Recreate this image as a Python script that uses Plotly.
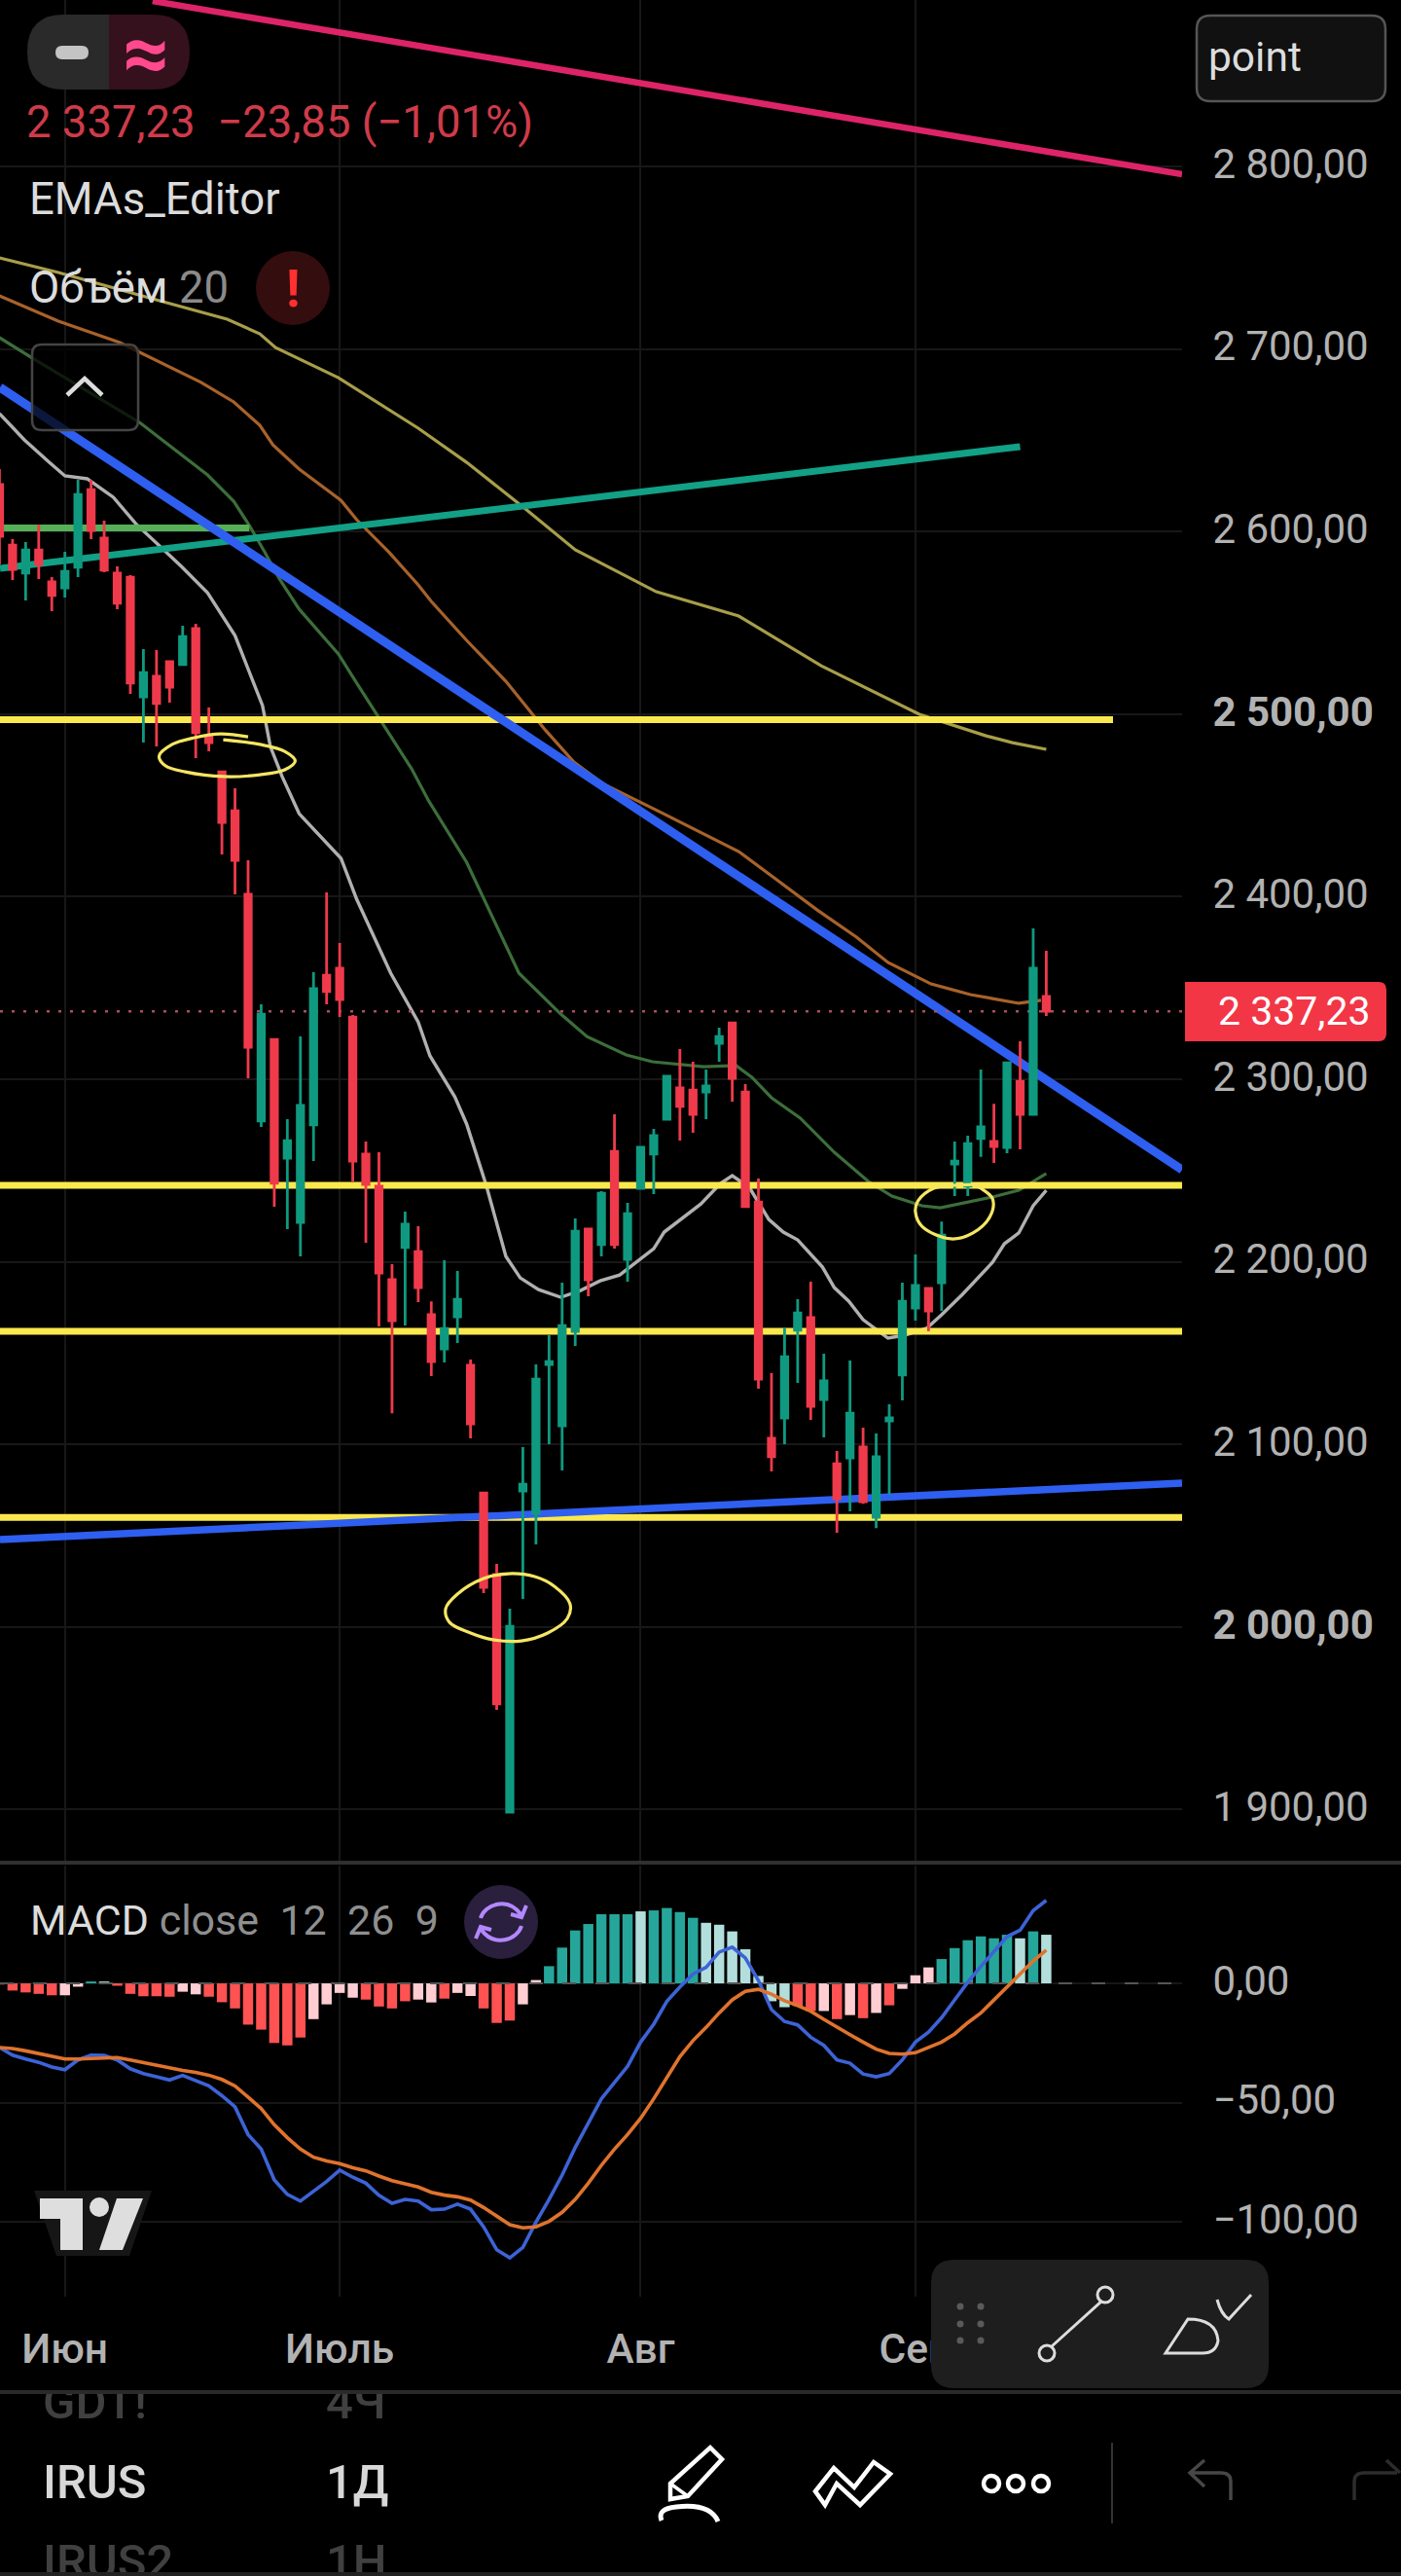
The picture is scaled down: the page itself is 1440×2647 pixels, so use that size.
import plotly.graph_objects as go

W, H = 1440, 2647
FONT = "Roboto"

# ---------- price pane data ----------
candle_idx = list(range(-5, 76))
c_open = [2625.7,2592.6,2577.2,2589.9,2572.4,2569.2,2580.4,2623.0,2596.4,2577.2,
          2575.0,2509.5,2520.7,2528.7,2527.1,2546.8,2488.1,2468.4,2447.1,2401.3,
          2277.1,2321.8,2256.8,2221.6,2275.0,2357.0,2360.8,2334.1,2259.0,2241.4,
          2190.2,2207.8,2205.6,2171.0,2152.3,2169.9,2143.3,2073.4,2028.7,1898.6,
          2074.5,2062.2,2143.8,2110.2,2161.9,2217.9,2209.4,2260.5,2201.4,2240.3,
          2259.0,2278.1,2295.2,2294.1,2293.0,2319.7,2330.9,2293.0,2232.8,2103.3,
          2114.5,2162.5,2169.4,2124.6,2089.4,2092.6,2098.5,2060.1,2112.9,2138.0,
          2174.7,2185.4,2188.6,2253.6,2241.4,2267.5,2265.9,2262.7,2298.9,2280.8,
          2345.3]
c_close = [2597.4,2579.3,2589.9,2582.0,2565.0,2578.2,2620.3,2600.6,2578.8,2560.7,
           2517.0,2522.8,2505.8,2514.8,2542.5,2489.8,2484.4,2440.7,2419.9,2317.6,
           2335.7,2243.0,2266.4,2285.6,2349.6,2348.0,2343.7,2255.2,2242.4,2193.9,
           2167.8,2220.6,2185.9,2145.4,2163.5,2179.5,2111.3,2021.7,1957.8,2000.4,
           2078.2,2135.8,2145.4,2165.1,2216.8,2190.2,2237.6,2209.4,2226.4,2262.7,
           2269.1,2301.6,2285.1,2280.8,2296.3,2323.4,2300.5,2230.2,2135.8,2093.2,
           2148.0,2172.0,2120.9,2134.8,2070.2,2117.1,2068.6,2093.2,2114.5,2178.4,
           2187.0,2173.1,2214.7,2255.2,2264.8,2273.9,2263.2,2309.0,2280.8,2360.8,
           2337.23]
c_high = [2634.2,2595.8,2594.2,2603.8,2575.0,2588.9,2628.4,2628.4,2606.0,2580.9,
          2576.1,2535.6,2535.1,2528.7,2548.4,2549.5,2503.6,2468.4,2459.4,2419.9,
          2341.0,2321.8,2278.1,2323.4,2358.6,2402.3,2374.6,2335.2,2265.9,2260.0,
          2198.7,2227.5,2219.5,2178.4,2200.8,2195.0,2146.5,2074.0,2034.5,2010.0,
          2098.5,2143.8,2159.8,2188.6,2223.8,2217.9,2238.7,2280.8,2232.3,2262.7,
          2272.8,2301.6,2316.5,2309.6,2305.3,2328.2,2330.9,2297.3,2245.6,2139.0,
          2164.1,2179.5,2189.1,2149.7,2096.4,2145.9,2109.2,2106.0,2121.9,2188.6,
          2204.0,2186.0,2222.1,2265.9,2269.1,2305.3,2286.6,2309.0,2320.8,2382.6,
          2370.4]
c_low = [2582.0,2573.4,2562.2,2574.0,2556.4,2563.9,2575.0,2595.8,2577.7,2557.5,
         2511.1,2484.4,2482.3,2506.3,2527.1,2475.9,2479.6,2423.1,2401.3,2300.5,
         2273.9,2230.2,2217.9,2203.0,2255.2,2341.0,2334.1,2244.0,2210.4,2164.6,
         2117.1,2165.1,2177.9,2137.4,2144.9,2155.5,2103.3,2018.5,1954.6,1898.6,
         2015.3,2045.2,2100.1,2085.7,2153.9,2181.1,2203.0,2207.2,2189.1,2240.3,
         2237.1,2278.1,2266.4,2270.7,2278.1,2309.6,2287.7,2229.6,2130.5,2085.2,
         2100.1,2133.7,2113.4,2103.8,2051.6,2063.3,2067.5,2054.2,2072.4,2124.1,
         2167.8,2161.9,2173.1,2236.0,2236.0,2257.5,2254.1,2259.5,2261.6,2280.8,
         2334.6]

ema_gray_x = [-5.0,-3.1,-1.2,0,1.7,3.7,5.4,7.5,8.9,10.9,13.0,15.1,15.7,16.6,17.9,21.1,22.3,24.9,27.0,27.9,29.8,30.7,32.2,33.7,34.8,36.2,37.9,39.4,40.9,42.4,45.0,45.8,48.6,50.1,51.0,52.3,53.8,54.9,56.0,57.9,58.8,59.9,61.0,62.9,64.2,65.9,67.0,68.6,70.9,71.8,72.9,74.0,75.0]
ema_gray_y = [2664.6,2650.2,2638.0,2630.5,2628.9,2618.8,2604.4,2590.0,2580.9,2566.5,2543.0,2504.7,2482.3,2465.8,2445.5,2421.0,2398.6,2358.1,2331.4,2312.8,2290.4,2275.5,2241.9,2203.0,2191.2,2184.8,2180.6,2184.3,2189.6,2192.8,2207.2,2216.3,2231.7,2242.9,2247.2,2240.8,2223.2,2216.3,2212.0,2197.1,2185.9,2178.5,2168.3,2158.2,2159.8,2163.8,2171.0,2182.2,2199.8,2209.9,2215.8,2230.7,2239.2]
ema_green_x = [-5.0,-2.5,5.7,10.9,12.9,14.1,15.3,16.4,17.9,20.9,22.3,23.8,26.5,27.8,30.7,34.7,37.9,39.9,42.9,44.9,48.8,51.3,52.5,54.0,56.2,58.8,61.4,63.2,65.5,66.9,70.9,72.9,75.0]
ema_green_y = [2706.2,2695.0,2659.8,2631.0,2616.6,2603.3,2588.4,2574.0,2557.5,2533.0,2517.0,2500.4,2470.0,2452.5,2418.9,2358.1,2335.7,2323.4,2313.3,2309.6,2306.9,2307.5,2301.1,2289.9,2278.7,2260.0,2244.0,2236.0,2230.7,2229.6,2235.5,2239.2,2248.3]
ema_orange_x = [-5.0,-0.5,4.2,10.4,12.9,14.9,15.9,17.9,21.1,22.3,24.8,27.0,28.0,30.7,33.7,36.7,38.9,41.1,45.6,48.6,51.5,54.5,57.5,60.5,62.9,66.2,69.2,70.9,72.9,74.6]
ema_orange_y = [2729.1,2715.2,2703.5,2681.7,2671.0,2658.2,2647.5,2634.2,2617.1,2606.5,2588.4,2570.8,2561.7,2540.4,2518.0,2491.4,2473.8,2462.0,2446.0,2435.4,2424.7,2408.7,2392.7,2377.8,2364.0,2352.2,2346.4,2344.2,2341.6,2343.2]
ema_khaki_x = [-5.0,-0.5,7.5,12.4,14.9,16.1,20.9,27.0,30.7,35.2,39.0,45.2,51.5,57.8,65.3,70.4,72.4,75.0]
ema_khaki_y = [2749.9,2741.9,2725.9,2716.3,2708.3,2700.8,2684.3,2656.6,2637.9,2612.4,2590.0,2567.0,2553.7,2526.5,2499.9,2488.1,2484.4,2480.7]

x_left, x_right = -4.96, 85.38
pink_x = [6.7, x_right];   pink_y = [2890.6, 2795.7]
blue_dn_x = [x_left, x_right]; blue_dn_y = [2679.0, 2250.4]
blue_up_x = [x_left, x_right]; blue_up_y = [2047.9, 2078.8]
teal_x = [x_left, 73.0];   teal_y = [2579.8, 2646.5]
green_x = [x_left, 14.1];  green_y = [2602.0, 2602.0]
yellow_top_x = [x_left, 80.1]; yellow_top_y = [2497.0, 2497.0]
yellow_levels = [2241.9, 2161.9, 2060.0]
last_price = 2337.23

ell1_x = [14.0,11.9,9.9,8.2,7.2,7.7,9.2,12.1,14.9,16.8,17.6,16.8,14.9,12.1]
ell1_y = [2487.6,2489.2,2487.1,2483.4,2477.0,2471.6,2468.4,2465.8,2466.8,2469.5,2474.3,2479.6,2483.4,2486.0]
ell2_x = [33.9,32.0,30.0,29.1,29.4,31.0,32.7,34.9,36.9,38.4,38.6,37.4,35.9,33.9]
ell2_y = [2029.2,2026.5,2018.0,2010.0,2002.5,1996.7,1993.0,1992.4,1996.7,2004.7,2012.7,2022.3,2027.6,2029.2]
ell3_x = [69.4,67.9,66.4,65.2,65.0,65.5,67.7,69.4,70.7,70.9,70.0,69.2]
ell3_y = [2242.4,2241.9,2240.3,2233.4,2227.5,2219.5,2212.6,2215.8,2224.8,2234.4,2240.3,2243.0]

price_ticks = [2800,2700,2600,2500,2400,2300,2200,2100,2000,1900]
price_labels = ["2 800,00","2 700,00","2 600,00","<b>2 500,00</b>","2 400,00","2 300,00","2 200,00","2 100,00","<b>2 000,00</b>","1 900,00"]
month_ticks = [0,21,44,65]
month_labels = ["Июн","Июль","Авг","Сен"]

# ---------- MACD pane data ----------
hist_vals = [-0.5,-3.0,-3.8,-4.4,-5.0,-5.0,-1.4,0.8,0.8,-1.0,-4.4,-5.4,-5.4,-5.6,-3.5,-4.6,-5.6,-7.9,-10.5,-17.3,
             -19.4,-25.0,-26.0,-22.7,-15.0,-8.8,-4.0,-6.0,-6.8,-9.7,-10.5,-7.5,-6.8,-8.0,-6.4,-4.0,-5.3,-10.5,-16.6,-15.6,
             -8.8,1.4,7.2,15.0,22.2,24.9,29.0,29.0,29.0,30.2,30.6,31.6,29.9,27.5,25.4,24.6,21.8,14.3,3.1,-7.5,
             -10.0,-9.5,-11.6,-11.6,-15.0,-13.3,-14.6,-12.4,-9.2,-2.3,3.4,6.7,10.2,14.8,18.1,19.7,18.9,20.4,18.9,21.8,20.4]
hist_kind = list("RRRRRPPTLRRRRRPPRRRRRRRRPPPPRRRRPPRPPRRRPP") + list("TTTTTTTLTTTTLLLLLLLRRPRPRPRPPPTTTTTTLTLTL")
macd_line = [-26.9,-30.1,-31.7,-33.1,-35.1,-36.2,-32.1,-30.1,-30.2,-32.1,-35.8,-37.8,-39.2,-40.5,-38.6,-40.9,-43.0,-47.1,-51.8,-63.4,
             -69.5,-82.4,-88.5,-91.3,-87.2,-83.1,-78.3,-81.3,-83.8,-88.9,-92.2,-90.6,-91.3,-94.9,-94.7,-92.6,-94.7,-102.1,-111.7,-115.1,
             -110.7,-100.1,-90.6,-80.4,-68.8,-58.6,-48.4,-41.6,-34.8,-24.6,-17.1,-7.6,-1.5,3.9,6.7,13.1,15.2,10.7,1.2,-11.0,
             -16.0,-17.4,-22.6,-26.0,-32.1,-33.5,-38.0,-39.2,-37.8,-32.1,-24.6,-20.5,-14.4,-6.9,0.5,7.1,13.5,19.6,22.3,30.5,34.8]
signal_line = [-26.9,-27.3,-28.3,-29.4,-30.7,-31.7,-31.7,-31.4,-31.1,-31.1,-32.1,-33.2,-34.4,-35.6,-36.5,-37.3,-38.5,-40.3,-43.0,-47.7,
               -52.5,-59.3,-64.7,-69.5,-72.9,-74.5,-75.6,-77.3,-78.6,-80.8,-82.7,-84.1,-85.4,-87.6,-88.8,-89.5,-90.9,-94.0,-97.4,-101.2,
               -102.5,-102.1,-99.8,-96.0,-90.6,-83.8,-76.3,-69.5,-63.4,-56.6,-48.4,-39.6,-30.7,-24.0,-18.5,-12.4,-6.9,-3.3,-2.5,-4.5,
               -7.3,-9.3,-11.7,-15.1,-18.5,-21.5,-24.6,-27.6,-29.4,-29.7,-29.1,-26.9,-24.6,-21.2,-16.5,-12.4,-6.9,-1.5,3.9,9.4,13.9]
macd_ticks = [0,-50,-100]
macd_labels = ["0,00","−50,00","−100,00"]

# ---------- symbol list (bottom strip) ----------
list_names = ["GDT!","IRUS","IRUS2"]
list_frames = ["4Ч","1Д","1Н"]

# ---------- pixel helpers for chrome (UI decoration only) ----------
def px(x): return x / W
def py(y): return 1 - y / H

def pth(*c):
    out = []
    for t in c:
        if t[0] == "Z":
            out.append("Z"); continue
        vals = t[1:]
        pts = []
        for i in range(0, len(vals), 2):
            pts.append(f"{px(vals[i]):.5f},{py(vals[i+1]):.5f}")
        out.append(t[0] + " ".join(pts))
    return " ".join(out)

def rrect(x0, y0, x1, y1, r):
    return pth(("M",x0+r,y0),("L",x1-r,y0),("Q",x1,y0,x1,y0+r),("L",x1,y1-r),("Q",x1,y1,x1-r,y1),
               ("L",x0+r,y1),("Q",x0,y1,x0,y1-r),("L",x0,y0+r),("Q",x0,y0,x0+r,y0),("Z",))

shapes = []
def add_path(p, fill=None, color=None, width=0):
    shapes.append(dict(type="path", xref="paper", yref="paper", path=p, layer="above",
                       fillcolor=fill if fill else "rgba(0,0,0,0)",
                       line=dict(color=color if color else "rgba(0,0,0,0)", width=width)))
def add_circle(cx, cy, r, fill=None, color=None, width=0, rx=None):
    rx = rx if rx else r
    shapes.append(dict(type="circle", xref="paper", yref="paper", layer="above",
                       x0=px(cx-rx), x1=px(cx+rx), y0=py(cy+r), y1=py(cy-r),
                       fillcolor=fill if fill else "rgba(0,0,0,0)",
                       line=dict(color=color if color else "rgba(0,0,0,0)", width=width)))
def add_rect(x0, y0, x1, y1, fill):
    shapes.append(dict(type="rect", xref="paper", yref="paper", layer="above",
                       x0=px(x0), x1=px(x1), y0=py(y1), y1=py(y0), fillcolor=fill, line=dict(width=0)))

# separators
add_rect(0, 1912, W, 1916, "#303030")
add_rect(0, 2456, W, 2460, "#2a2a2a")
add_rect(0, 2643, W, 2647, "#222222")
# pill
add_path(pth(("M",112,15),("L",66,15),("Q",28,15,28,53),("Q",28,92,66,92),("L",112,92),("Z",)), fill="#2a2a2a")
add_path(pth(("M",112,15),("L",157,15),("Q",195,15,195,53),("Q",195,92,157,92),("L",112,92),("Z",)), fill="#35101d")
add_path(rrect(57,47,91,61,7), fill="#c4c4c4")
# warning dot, collapse button, point box
add_circle(301,296,38, fill="#340d0e")
add_path(rrect(33,354,142,442,10), fill="rgba(0,0,0,0.75)", color="#444444", width=2.5)
add_path(pth(("M",69,406),("L",87,389),("L",105,406)), color="#dddddd", width=4.5)
add_path(rrect(1230,16,1424,104,14), fill="#111111", color="#555555", width=2.5)
# price tag
add_path(pth(("M",1218,1009),("L",1417,1009),("Q",1425,1009,1425,1017),("L",1425,1062),("Q",1425,1070,1417,1070),("L",1218,1070),("Z",)), fill="#f23645")
# refresh badge
add_circle(515,1975,38, fill="#2a1f3d")
add_path(pth(("M",494,1971),("C",498,1957,522,1948,536,1968),("M",541,1958),("L",536,1970),("L",525,1967)), color="#b388ff", width=4)
add_path(pth(("M",536,1979),("C",532,1993,508,2002,494,1982),("M",489,1992),("L",494,1980),("L",505,1983)), color="#b388ff", width=4)
# TV logo
add_path(pth(("M",35,2251),("L",156,2251),("L",133,2318),("L",58,2318),("Z",)), fill="#161616")
add_path(pth(("M",41,2259),("L",85,2259),("L",85,2312),("L",62,2312),("L",62,2280),("L",41,2280),("Z",)), fill="#dedede")
add_circle(102,2268,10, fill="#dedede")
add_path(pth(("M",120,2259),("L",147,2259),("L",126,2312),("L",102,2312),("Z",)), fill="#dedede")
# floating toolbar
add_path(rrect(957,2322,1304,2454,24), fill="#1e1e1e")
for dx in (987,1008):
    for dy in (2370,2388,2405):
        add_circle(dx,dy,3.5, fill="#5a5a5a")
add_path(pth(("M",1081,2411),("L",1132,2365)), color="#dddddd", width=3)
add_circle(1076,2418,8, fill="#1e1e1e", color="#dddddd", width=3)
add_circle(1136,2358,8, fill="#1e1e1e", color="#dddddd", width=3)
add_path(pth(("M",1198,2418),("L",1221,2383),("Q",1250,2383,1252,2405),("Q",1250,2418,1236,2418),("Z",)), color="#dddddd", width=3)
add_path(pth(("M",1251,2363),("Q",1255,2378,1263,2383),("L",1286,2358)), color="#dddddd", width=3)
# bottom toolbar icons
add_path(pth(("M",730,2515),("L",742,2527),("L",707,2565),("L",689,2568),("L",689,2552),("Z",)), color="#ffffff", width=4.5)
add_path(pth(("M",689,2552),("L",707,2565)), color="#ffffff", width=3.5)
add_path(pth(("M",680,2590),("Q",675,2578,695,2576),("Q",730,2572,738,2591)), color="#ffffff", width=5)
add_path(pth(("M",838,2560),("L",857,2536),("L",878,2556),("L",898,2530),("L",915,2542),("L",884,2574),("L",860,2552),("L",848,2574),("Z",)), color="#ffffff", width=4.5)
for cx in (1019,1044,1070):
    add_circle(cx,2552,8, color="#ffffff", width=4.5)
add_rect(1142,2510,1144,2593,"#333333")
add_path(pth(("M",1265,2569),("L",1265,2550),("Q",1265,2541,1255,2541),("L",1225,2541),("M",1238,2528),("L",1223,2541),("L",1238,2555)), color="#474747", width=3.5)
add_path(pth(("M",1392,2569),("L",1392,2550),("Q",1392,2541,1402,2541),("L",1436,2541),("M",1425,2528),("L",1439,2541)), color="#2c2c2c", width=3.5)

def ann(x, y, text, size, color, anchor="left"):
    return dict(x=px(x), y=py(y), xref="paper", yref="paper", text=text, showarrow=False,
                xanchor=anchor, yanchor="middle", align="left",
                font=dict(family=FONT, size=size, color=color))

annotations = [
    ann(25,126,"2 337,23  −23,85 (−1,01%)",45.5,"#cf3b4a"),
    ann(28,205,"EMAs_Editor",45.5,"#dcdcdc"),
    ann(28,295,"Объём <span style='color:#8a8a8a'>20</span>",45.5,"#dcdcdc"),
    ann(1240,58,"point",42.5,"#dddddd"),
    ann(1250,1039,"2 337,23",41,"#ffffff"),
    ann(29,1973,"MACD <span style='color:#8f8f8f'>close  12  26  9</span>",43,"#dcdcdc"),
    ann(150,54,"<b>≈</b>",84,"#ff4a8d","center"),
    ann(301,296,"<b>!</b>",54,"#ff3030","center"),
]

fig = go.Figure()
def line(x, y, color, width, **kw):
    fig.add_trace(go.Scatter(x=x, y=y, mode="lines", line=dict(color=color, width=width, **kw),
                             hoverinfo="skip", showlegend=False, xaxis="x", yaxis="y"))

line(ema_khaki_x, ema_khaki_y, "#a89e4a", 3.2)
line(ema_orange_x, ema_orange_y, "#a8622a", 3.2)
line(ema_green_x, ema_green_y, "#3c6e3a", 3.2)
line(ema_gray_x, ema_gray_y, "#b0b0b0", 3.4)
line(green_x, green_y, "#55b058", 7)
line(teal_x, teal_y, "#12a086", 7)
line(yellow_top_x, yellow_top_y, "#fbe84e", 7)
for lv in yellow_levels:
    line([x_left, x_right], [lv, lv], "#fbe84e", 7)
line(blue_dn_x, blue_dn_y, "#2f5ff0", 9)
line(blue_up_x, blue_up_y, "#2f5ff0", 7.5)
line(pink_x, pink_y, "#dd2468", 6.5)
line([x_left, x_right], [last_price, last_price], "#a8505c", 2.5, dash="3px,9px")

fig.add_trace(go.Candlestick(
    x=candle_idx, open=c_open, high=c_high, low=c_low, close=c_close,
    increasing=dict(line=dict(color="#0f9a80", width=2.8), fillcolor="#0f9a80"),
    decreasing=dict(line=dict(color="#ef3a4b", width=2.8), fillcolor="#ef3a4b"),
    whiskerwidth=0, xaxis="x", yaxis="y3", hoverinfo="skip", showlegend=False))

for ex, ey in ((ell1_x, ell1_y), (ell2_x, ell2_y), (ell3_x, ell3_y)):
    fig.add_trace(go.Scatter(x=ex, y=ey, mode="lines", line=dict(color="#f5e663", width=3.2, shape="spline"),
                             hoverinfo="skip", showlegend=False, xaxis="x", yaxis="y3"))

# MACD
kind_color = {"R":"#ff5252","P":"#ffcdd2","T":"#26a69a","L":"#b2dfdb"}
fig.add_trace(go.Bar(x=candle_idx, y=hist_vals, marker=dict(color=[kind_color[k] for k in hist_kind], line=dict(width=0)),
                     width=0.78, xaxis="x2", yaxis="y2", hoverinfo="skip", showlegend=False))
fig.add_trace(go.Scatter(x=[x_left, x_right], y=[0, 0], mode="lines", line=dict(color="#555555", width=2, dash="14px,20px"),
                         xaxis="x2", yaxis="y2", hoverinfo="skip", showlegend=False))
fig.add_trace(go.Scatter(x=candle_idx, y=macd_line, mode="lines", line=dict(color="#3d63d6", width=3.6),
                         xaxis="x2", yaxis="y2", hoverinfo="skip", showlegend=False))
fig.add_trace(go.Scatter(x=candle_idx, y=signal_line, mode="lines", line=dict(color="#e0732e", width=3.6),
                         xaxis="x2", yaxis="y2", hoverinfo="skip", showlegend=False))

# symbol list strip (clipped at its edges like the scrolled list)
list_xs = [44, 44, 44, 335, 335, 335]
list_ys = [2473, 2555, 2637, 2473, 2555, 2637]
list_cols = ["#404040", "#d8d8d8", "#404040", "#404040", "#d8d8d8", "#404040"]
fig.add_trace(go.Scatter(x=list_xs, y=list_ys, mode="text", text=list_names + list_frames, textposition="middle right",
                         textfont=dict(family=FONT, size=49, color=list_cols, weight=500), cliponaxis=True,
                         xaxis="x3", yaxis="y4", hoverinfo="skip", showlegend=False))

grid = "#171717"
tick_font = dict(family=FONT, size=42, color="#b2b2b2")
fig.update_layout(
    width=W, height=H, autosize=False, margin=dict(l=0, r=0, t=0, b=0, pad=0),
    paper_bgcolor="#000000", plot_bgcolor="#000000", showlegend=False,
    boxgap=0.52, boxgroupgap=0, bargap=0.2, hovermode=False, dragmode=False,
    xaxis=dict(domain=[0, 1215/W], range=[x_left, x_right], tickmode="array", tickvals=month_ticks,
               showticklabels=False, ticks="", showgrid=True, gridcolor=grid, gridwidth=2, zeroline=False,
               rangeslider=dict(visible=False), anchor="y", showline=False),
    yaxis=dict(domain=[1-1914/H, 1], range=[1870.9, 2891.15], side="right", anchor="x", tickmode="array",
               tickvals=price_ticks, ticktext=price_labels, tickfont=tick_font, ticks="outside", ticklen=22,
               ticklabelshift=-3, tickcolor="rgba(0,0,0,0)", showgrid=True, gridcolor=grid, gridwidth=2, zeroline=False, showline=False),
    yaxis3=dict(overlaying="y", range=[1870.9, 2891.15], visible=False, anchor="x", side="left"),
    xaxis2=dict(domain=[0, 1215/W], range=[x_left, x_right], tickmode="array", tickvals=month_ticks, ticktext=month_labels,
                tickfont=dict(family=FONT, size=42.5, color="#b2b2b2", weight=500), ticks="outside", ticklen=16, tickcolor="rgba(0,0,0,0)",
                showgrid=True, gridcolor=grid, gridwidth=2, zeroline=False, anchor="y2", showline=False),
    yaxis2=dict(domain=[1-2360/H, 1-1917/H], range=[-131.4, 49.4], side="right", anchor="x2", tickmode="array",
                tickvals=macd_ticks, ticktext=macd_labels, tickfont=tick_font, ticks="outside", ticklen=22,
                ticklabelshift=-3, tickcolor="rgba(0,0,0,0)", showgrid=True, gridcolor=grid, gridwidth=2, zeroline=False, showline=False),
    xaxis3=dict(domain=[0, 1], range=[0, W], visible=False, anchor="y4"),
    yaxis4=dict(domain=[1-2643/H, 1-2460/H], range=[2643, 2460], visible=False, anchor="x3"),
    shapes=shapes, annotations=annotations,
)
fig.write_html("out.html", config=dict(displayModeBar=False, staticPlot=True),
               post_script="document.body.style.margin='0';document.documentElement.style.overflow='hidden';")
